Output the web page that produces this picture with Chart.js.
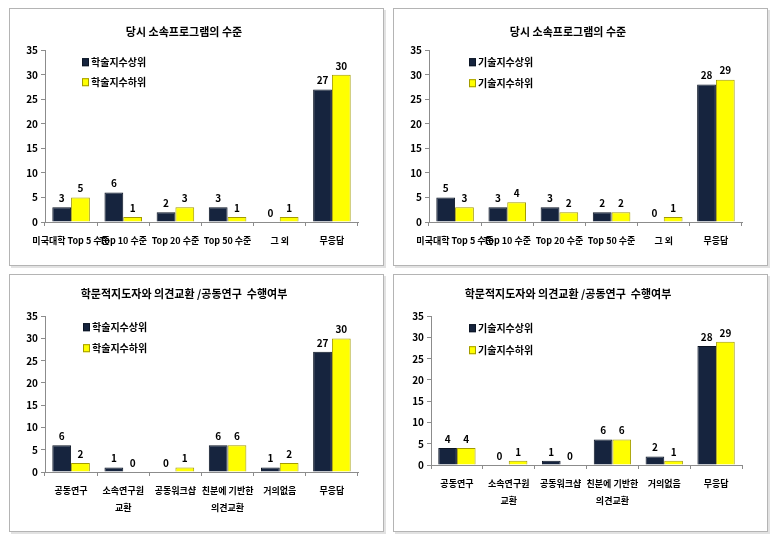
<!DOCTYPE html>
<html>
<head>
<meta charset="utf-8">
<script src="https://cdn.jsdelivr.net/npm/chart.js@4"></script>
<style>
  body { margin: 0; background: #fff; width: 779px; height: 537px; position: relative; overflow: hidden; }
  .panel { position: absolute; width: 375px; height: 258px; box-sizing: border-box;
           border: 1px solid #b4b4b4; box-shadow: 2px 2px 0 #e2e2e2; background: #fff; }
  .panel canvas { position: absolute; left: 0; top: 0; }
</style>
</head>
<body>
<div class="panel" style="left:9px;top:8px"><canvas id="chart1" width="373" height="256"></canvas></div>
<div class="panel" style="left:393px;top:8px"><canvas id="chart2" width="373" height="256"></canvas></div>
<div class="panel" style="left:9px;top:274px"><canvas id="chart3" width="373" height="256"></canvas></div>
<div class="panel" style="left:393px;top:274px"><canvas id="chart4" width="373" height="256"></canvas></div>
<script>
// 데이터
const titleLevel = '당시 소속프로그램의 수준';
const titleExchange = '학문적지도자와 의견교환 /공동연구  수행여부';

const levelLabels = ['미국대학 Top 5 수준', 'Top 10 수준', 'Top 20 수준', 'Top 50 수준', '그 외', '무응답'];
const exchangeLabels = ['공동연구', ['소속연구원', '교환'], '공동워크샵', ['친분에 기반한', '의견교환'], '거의없음', '무응답'];

const academicNames = ['학술지수상위', '학술지수하위'];
const techNames = ['기술지수상위', '기술지수하위'];

const levelAcademicHigh = [3, 6, 2, 3, 0, 27];
const levelAcademicLow = [5, 1, 3, 1, 1, 30];
const levelTechHigh = [5, 3, 3, 2, 0, 28];
const levelTechLow = [3, 4, 2, 2, 1, 29];

const exchAcademicHigh = [6, 1, 0, 6, 1, 27];
const exchAcademicLow = [2, 0, 1, 6, 2, 30];
const exchTechHigh = [4, 0, 1, 6, 2, 28];
const exchTechLow = [4, 1, 0, 6, 1, 29];

const yTicks = [0, 5, 10, 15, 20, 25, 30, 35];

const FONT = '"Liberation Sans Narrow", "Noto Sans CJK KR", "Noto Sans", sans-serif';
const NAVY = '#16243e';
const YELLOW = '#ffff00';

// 막대 위 값 표시 + 플롯 안쪽 범례
const valueLabels = {
  id: 'valueLabels',
  afterDatasetsDraw(chart) {
    const ctx = chart.ctx;
    ctx.save();
    ctx.font = 'bold 10px ' + FONT;
    ctx.fillStyle = '#000';
    ctx.textAlign = 'center';
    ctx.textBaseline = 'bottom';
    chart.data.datasets.forEach((ds, i) => {
      chart.getDatasetMeta(i).data.forEach((bar, j) => {
        ctx.fillText(ds.data[j], bar.x, bar.y - 4);
      });
    });
    ctx.restore();
  }
};

const innerLegend = {
  id: 'innerLegend',
  afterDraw(chart, args, opts) {
    const ctx = chart.ctx;
    const area = chart.chartArea;
    ctx.save();
    ctx.font = 'bold 10px ' + FONT;
    ctx.textBaseline = 'middle';
    chart.data.datasets.forEach((ds, i) => {
      const x = area.left + opts.dx;
      const y = area.top + opts.dy + i * opts.gap;
      ctx.fillStyle = ds.backgroundColor;
      ctx.fillRect(x, y - 4, 7, 8);
      ctx.strokeStyle = ds.borderColor;
      ctx.lineWidth = 1;
      ctx.strokeRect(x + 0.5, y - 3.5, 6, 7);
      ctx.fillStyle = '#000';
      ctx.fillText(ds.label, x + 9, y);
    });
    ctx.restore();
  }
};

function makeChart(id, title, labels, names, high, low, lay) {
  return new Chart(document.getElementById(id), {
    type: 'bar',
    data: {
      labels: labels,
      datasets: [
        { label: names[0], data: high, backgroundColor: NAVY, borderColor: '#0b1424', borderWidth: 1 },
        { label: names[1], data: low, backgroundColor: YELLOW, borderColor: '#a39b00', borderWidth: 1 }
      ]
    },
    options: {
      responsive: false,
      animation: false,
      layout: { padding: { left: 0, right: 25, top: 0, bottom: 0 } },
      datasets: { bar: { categoryPercentage: 0.72, barPercentage: 1 } },
      plugins: {
        legend: { display: false },
        tooltip: { enabled: false },
        title: {
          display: true,
          text: title,
          color: '#000',
          font: { family: FONT, size: 11, weight: 'bold', lineHeight: 1.2 },
          padding: { top: lay.titleMid - 7, bottom: lay.top - lay.titleMid - 6 }
        },
        innerLegend: { dx: lay.legX, dy: lay.legY, gap: lay.legGap }
      },
      scales: {
        x: {
          grid: { display: true, drawOnChartArea: false, drawTicks: true, tickLength: 4, color: '#8c8c8c', offset: true },
          border: { display: true, color: '#8c8c8c' },
          ticks: {
            autoSkip: false, maxRotation: 0, minRotation: 0, padding: 6, color: '#000',
            font: { family: FONT, size: 9, weight: 'bold', lineHeight: 1.9 }
          },
          afterFit(scale) { scale.height = lay.bottom; }
        },
        y: {
          min: 0, max: 35,
          afterBuildTicks(scale) { scale.ticks = yTicks.map(v => ({ value: v })); },
          grid: { display: true, drawOnChartArea: false, drawTicks: true, tickLength: 4, color: '#8c8c8c' },
          border: { display: true, color: '#8c8c8c' },
          ticks: {
            padding: 3, color: '#000',
            font: { family: FONT, size: 10, weight: 'bold' }
          },
          afterFit(scale) { scale.width = lay.left; }
        }
      }
    },
    plugins: [valueLabels, innerLegend]
  });
}

makeChart('chart1', titleLevel, levelLabels, academicNames, levelAcademicHigh, levelAcademicLow,
  { left: 35, top: 41, bottom: 43, titleMid: 23, legX: 37, legY: 12, legGap: 20 });
makeChart('chart2', titleLevel, levelLabels, techNames, levelTechHigh, levelTechLow,
  { left: 35, top: 41, bottom: 43, titleMid: 23, legX: 40, legY: 12, legGap: 21 });
makeChart('chart3', titleExchange, exchangeLabels, academicNames, exchAcademicHigh, exchAcademicLow,
  { left: 35, top: 41, bottom: 59, titleMid: 19, legX: 38, legY: 11, legGap: 21 });
makeChart('chart4', titleExchange, exchangeLabels, techNames, exchTechHigh, exchTechLow,
  { left: 37, top: 41, bottom: 66, titleMid: 19, legX: 38, legY: 12, legGap: 22 });
</script>
</body>
</html>
